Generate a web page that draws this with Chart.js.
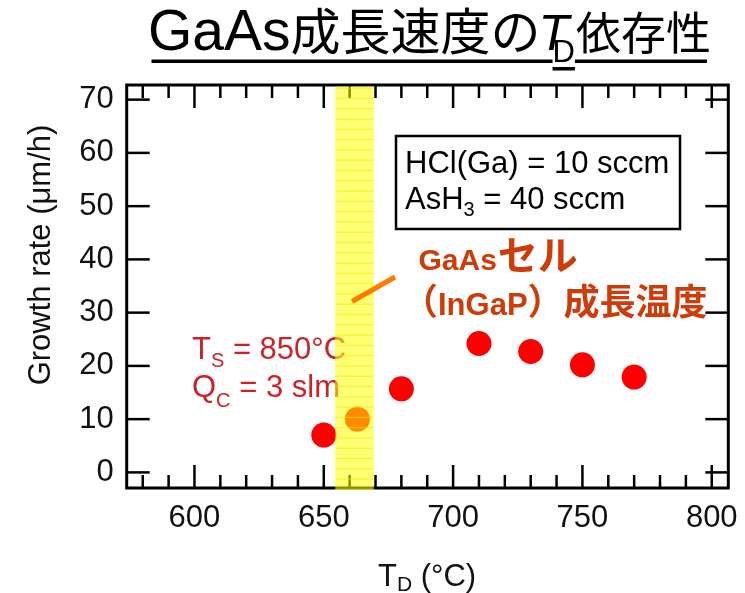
<!DOCTYPE html>
<html>
<head>
<meta charset="utf-8">
<script src="https://cdn.jsdelivr.net/npm/chart.js@4.4.1/dist/chart.umd.min.js"></script>
<style>
  html, body { margin: 0; padding: 0; background: #fff; }
  #wrap { width: 745px; height: 593px; }
</style>
</head>
<body>
<div id="wrap"><canvas id="c" width="745" height="593"></canvas></div>
<script>
// GaAs growth rate vs. deposition-zone temperature T_D
const depositionTemps = [650, 663, 680, 710, 730, 750, 770];   // °C
const growthRates     = [7.0, 10.0, 15.7, 24.2, 22.7, 20.2, 17.9]; // µm/h
const xTickValues = [600, 650, 700, 750, 800];
const yTickValues = [0, 10, 20, 30, 40, 50, 60, 70];
const xMinorStep = 10;
const cellTempBand = [654.4, 669.3]; // GaAs cell (InGaP) growth temperature window

const LATIN = '"Liberation Sans", Arial, "Noto Sans CJK JP", sans-serif';
const CJK = '"Noto Sans CJK JP", "Liberation Sans", sans-serif';

// draw a sequence of text runs (for subscripts / mixed fonts)
function drawRuns(ctx, x, y, runs, color) {
  ctx.fillStyle = color;
  ctx.textAlign = 'left';
  ctx.textBaseline = 'alphabetic';
  let cx = x;
  for (const r of runs) {
    ctx.font = r.font;
    if (r.dx) cx += r.dx;
    ctx.fillText(r.t, cx, y + (r.dy || 0));
    cx += ctx.measureText(r.t).width;
  }
  return cx;
}

function seg(ctx, x1, y1, x2, y2) {
  ctx.beginPath(); ctx.moveTo(x1, y1); ctx.lineTo(x2, y2); ctx.stroke();
}

const decor = {
  id: 'decor',
  afterDraw(chart) {
    const { ctx, chartArea: a, scales: { x, y } } = chart;
    ctx.save();

    // plot frame
    ctx.strokeStyle = '#000';
    ctx.lineWidth = 3;
    ctx.strokeRect(a.left, a.top, a.right - a.left, a.bottom - a.top);

    // inward tick marks, mirrored on all four sides
    ctx.lineWidth = 2.5;
    const xStart = Math.ceil(x.min / xMinorStep) * xMinorStep;
    for (let v = xStart; v <= x.max; v += xMinorStep) {
      const px = x.getPixelForValue(v);
      const len = xTickValues.includes(v) ? 23 : 13;
      seg(ctx, px, a.bottom, px, a.bottom - len);
      seg(ctx, px, a.top, px, a.top + len);
    }
    for (const v of yTickValues) {
      const py = y.getPixelForValue(v);
      seg(ctx, a.left, py, a.left + 23, py);
      seg(ctx, a.right, py, a.right - 23, py);
    }

    // growth conditions (red)
    const red = '#cc2229';
    drawRuns(ctx, 192, 358.5, [
      { t: 'T', font: '31px ' + LATIN },
      { t: 'S', font: '20px ' + LATIN, dy: 8.5 },
      { t: ' = 850°C', font: '31px ' + LATIN }
    ], red);
    drawRuns(ctx, 192, 397, [
      { t: 'Q', font: '31px ' + LATIN },
      { t: 'C', font: '20px ' + LATIN, dy: 10 },
      { t: ' = 3 slm', font: '31px ' + LATIN }
    ], red);

    // source flow box
    ctx.strokeStyle = '#000';
    ctx.lineWidth = 2.5;
    ctx.strokeRect(396, 136, 284, 93);
    drawRuns(ctx, 405, 172.5, [{ t: 'HCl(Ga) = 10 sccm', font: '31px ' + LATIN }], '#000');
    drawRuns(ctx, 405, 208.5, [
      { t: 'AsH', font: '31px ' + LATIN },
      { t: '3', font: '20px ' + LATIN, dy: 7 },
      { t: ' = 40 sccm', font: '31px ' + LATIN }
    ], '#000');

    // highlighted cell-temperature band
    const bx1 = x.getPixelForValue(cellTempBand[0]);
    const bx2 = x.getPixelForValue(cellTempBand[1]);
    const bTop = a.top + 1.5, bBot = a.bottom + 1.5;
    ctx.fillStyle = 'rgba(255,255,0,0.55)';
    ctx.fillRect(bx1, bTop, bx2 - bx1, bBot - bTop);
    ctx.fillStyle = 'rgba(250,228,0,0.55)';
    for (let yy = bTop + 1; yy < bBot; yy += 10.29) {
      ctx.fillRect(bx1, yy, bx2 - bx1, 1.2);
    }

    // pointer + label
    ctx.strokeStyle = '#ff7a00';
    ctx.lineWidth = 5;
    seg(ctx, 352, 301.5, 395, 277);
    const orange = '#cf3c0a';
    drawRuns(ctx, 418.5, 270, [
      { t: 'GaAs', font: 'bold 30px ' + LATIN },
      { t: 'セル', font: 'bold 40px ' + CJK, dx: 1 }
    ], orange);
    drawRuns(ctx, 402, 315, [
      { t: '（', font: 'bold 36px ' + CJK },
      { t: 'InGaP', font: 'bold 31px ' + LATIN },
      { t: '）成長温度', font: 'bold 36px ' + CJK }
    ], orange);

    // axis titles
    ctx.save();
    ctx.translate(50, 255);
    ctx.rotate(-Math.PI / 2);
    ctx.fillStyle = '#111';
    ctx.font = '31px ' + LATIN;
    ctx.textAlign = 'center';
    ctx.textBaseline = 'alphabetic';
    ctx.fillText('Growth rate (μm/h)', 0, 0);
    ctx.restore();

    drawRuns(ctx, 378, 585.5, [
      { t: 'T', font: '31px ' + LATIN },
      { t: 'D', font: '21px ' + LATIN, dy: 5 },
      { t: ' (°C)', font: '31px ' + LATIN }
    ], '#111');

    // page heading
    const hx = drawRuns(ctx, 148, 50, [
      { t: 'GaAs', font: '57px ' + LATIN },
      { t: '成長速度の', font: '50px ' + CJK }
    ], '#000');
    const tStart = hx - 2;
    drawRuns(ctx, tStart, 50, [{ t: 'T', font: 'italic 50px ' + LATIN }], '#000');
    const dX = tStart + 14;
    const dEnd = drawRuns(ctx, dX, 62, [{ t: 'D', font: '31px ' + LATIN }], '#000');
    drawRuns(ctx, dEnd + 1, 50, [{ t: '依存性', font: '45px ' + CJK }], '#000');
    ctx.fillStyle = '#000';
    ctx.fillRect(151.5, 59.5, dX - 151.5, 3.5);
    ctx.fillRect(dX, 67, dEnd - dX, 3.5);
    ctx.fillRect(dEnd, 59.5, 707 - dEnd, 3.5);

    ctx.restore();
  }
};

new Chart(document.getElementById('c'), {
  type: 'scatter',
  data: {
    datasets: [{
      data: depositionTemps.map((t, i) => ({ x: t, y: growthRates[i] })),
      backgroundColor: '#ff0000',
      borderWidth: 0,
      pointRadius: 12.5,
      pointHoverRadius: 12.5
    }]
  },
  options: {
    responsive: false,
    devicePixelRatio: 1,
    animation: false,
    events: [],
    layout: { padding: { top: 85, right: 16.7, bottom: 0, left: 0 } },
    plugins: { legend: { display: false }, tooltip: { enabled: false } },
    scales: {
      x: {
        type: 'linear',
        min: 573.8,
        max: 806.4,
        afterBuildTicks: s => { s.ticks = xTickValues.map(v => ({ value: v })); },
        afterFit: s => { s.height = 105; s.paddingLeft = 0; s.paddingRight = 0; },
        grid: { display: false, drawTicks: false },
        border: { display: false },
        ticks: { font: { family: LATIN, size: 31 }, color: '#111', padding: 12, autoSkip: false, maxRotation: 0 }
      },
      y: {
        type: 'linear',
        min: -2.93,
        max: 72.75,
        afterBuildTicks: s => { s.ticks = yTickValues.map(v => ({ value: v })); },
        afterFit: s => { s.width = 126.7; s.paddingTop = 0; s.paddingBottom = 0; },
        grid: { display: false, drawTicks: false },
        border: { display: false },
        ticks: { font: { family: LATIN, size: 31 }, color: '#111', padding: 13 }
      }
    }
  },
  plugins: [decor]
});
</script>
</body>
</html>
